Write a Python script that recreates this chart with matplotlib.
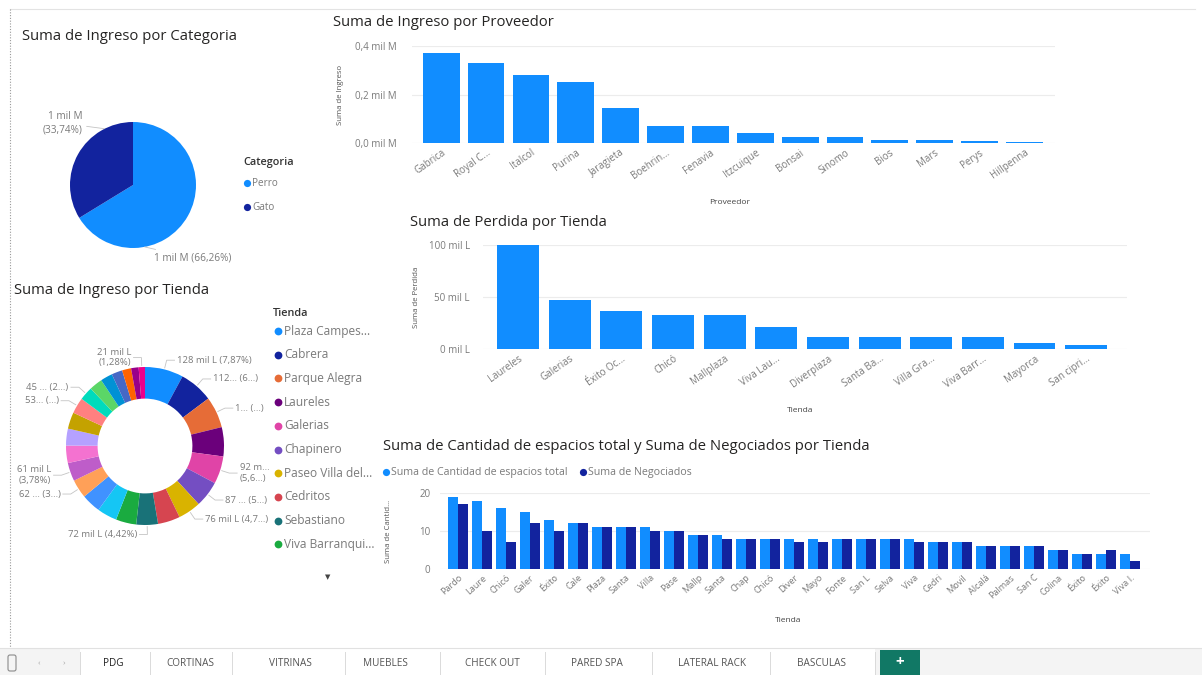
import numpy as np
import matplotlib
matplotlib.use('Agg')
import matplotlib.pyplot as plt
from matplotlib.patches import Rectangle, FancyBboxPatch

W, H = 1202, 675
plt.rcParams['font.family'] = ['Open Sans', 'DejaVu Sans']

# ---------------- data ----------------
categorias = ['Perro', 'Gato']
ingreso_categoria_pct = [66.26, 33.74]
categoria_labels = ['1 mil M (66,26%)', '1 mil M\n(33,74%)']
categoria_colors = ['#118DFF', '#12239E']

proveedores = ['Gabrica', 'Royal C...', 'Italcol', 'Purina', 'Jaragieta', 'Boehrin...',
               'Fenavia', 'Itzcuique', 'Bonsai', 'Sinomo', 'Bios', 'Mars', 'Perys', 'Hillpenna']
ingreso_proveedor = [0.371, 0.330, 0.280, 0.250, 0.145, 0.072, 0.071, 0.040,
                     0.026, 0.025, 0.013, 0.012, 0.009, 0.005]
prov_ticks = [0.0, 0.2, 0.4]
prov_ticklabels = ['0,0 mil M', '0,2 mil M', '0,4 mil M']

tiendas_perdida = ['Laureles', 'Galerias', 'Éxito Oc...', 'Chicó', 'Mallplaza', 'Viva Lau...',
                   'Diverplaza', 'Santa Ba...', 'Villa Gra...', 'Viva Barr...', 'Mayorca', 'San cipri...']
perdida = [100, 47, 37, 33, 33, 21, 12, 12, 12, 12, 6, 4]
perd_ticks = [0, 50, 100]
perd_ticklabels = ['0 mil L', '50 mil L', '100 mil L']

tiendas_ingreso = ['Plaza Campes...', 'Cabrera', 'Parque Alegra', 'Laureles', 'Galerias',
                   'Chapinero', 'Paseo Villa del...', 'Cedritos', 'Sebastiano', 'Viva Barranqui...',
                   'Chicó', 'Éxito Oc...', 'Mallplaza', 'Viva Lau...', 'Diverplaza', 'Santa Ba...',
                   'Villa Gra...', 'Viva Barr...', 'Mayorca', 'San cipri...', 'Fontanar',
                   'San Lucas', 'Selva', 'Movil', 'Alcalá']
ingreso_tienda = [128, 112, 104, 97, 92, 87, 76, 74, 72, 68, 66, 64, 62, 61, 58, 56, 55,
                  53, 45, 44, 40, 36, 30, 25, 21]
tienda_colors = ['#118DFF', '#12239E', '#E66C37', '#6B007B', '#E044A7', '#744EC2', '#D9B300',
                 '#D64550', '#197278', '#1AAB40', '#15C6F4', '#4092FF', '#FFA058', '#BE5DC9',
                 '#F472D0', '#B5A1FF', '#C4A200', '#FF8080', '#00DBBC', '#5BD667', '#0091D5',
                 '#4668C5', '#FF6300', '#99008A', '#EC008C']
ingreso_tienda_labels = {0: '128 mil L (7,87%)', 1: '112... (6...)', 2: '1... (...)',
                         4: '92 m...\n(5,6...)', 5: '87 ... (5...)', 6: '76 mil L (4,7...)',
                         8: '72 mil L (4,42%)', 12: '62 ... (3...)', 13: '61 mil L\n(3,78%)',
                         17: '53... (...)', 18: '45 ... (2...)', 24: '21 mil L\n(1,28%)'}

tiendas_espacios = ['Pardo', 'Laure', 'Chicó', 'Galer', 'Éxito', 'Cale', 'Plaza', 'Santa',
                    'Villa', 'Pase', 'Mallp', 'Santa', 'Chap', 'Chicó', 'Diver', 'Mayo',
                    'Fonte', 'San L', 'Selva', 'Viva', 'Cedri', 'Movil', 'Alcalá', 'Palmas',
                    'San C', 'Colina', 'Éxito', 'Éxito', 'Viva I.']
espacios_total = [19, 18, 16, 15, 13, 12, 11, 11, 11, 10, 9, 9, 8, 8, 8, 8, 8, 8, 8, 8,
                  7, 7, 6, 6, 6, 5, 4, 4, 4]
negociados = [17, 10, 7, 12, 10, 12, 11, 11, 10, 10, 9, 8, 8, 8, 7, 7, 8, 8, 8, 7,
              7, 7, 6, 6, 6, 5, 4, 5, 2]
esp_ticks = [0, 10, 20]

tabs = ['PDG', 'CORTINAS', 'VITRINAS', 'MUEBLES', 'CHECK OUT', 'PARED SPA', 'LATERAL RACK', 'BASCULAS']

# ---------------- helpers ----------------
LIGHT = '#118DFF'
DARK = '#12239E'
TITLE_C = '#252423'
LBL_C = '#7A7A7A'
TICK_FS = 7.0


def rect(x0, y0, x1, y1):
    return [x0 / W, 1 - y1 / H, (x1 - x0) / W, (y1 - y0) / H]


fig = plt.figure(figsize=(W / 100, H / 100), dpi=100)
fig.patch.set_facecolor('white')

bg = fig.add_axes([0, 0, 1, 1], zorder=-5)
bg.set_xlim(0, W)
bg.set_ylim(H, 0)
bg.axis('off')

# frame chrome
bg.plot([10, 1195], [9, 9], color='#E3E3E3', lw=0.8)
bg.plot([10, 10], [9, 648], color='#9A9A9A', lw=0.8, ls=(0, (1, 1.5)))


def title(x, y, s):
    bg.text(x, y, s, fontsize=10.7, color=TITLE_C, ha='left', va='center')


def style_bar_axes(ax, ticks, ticklabels, pad):
    for s in ax.spines.values():
        s.set_visible(False)
    ax.set_yticks(ticks)
    ax.set_yticklabels(ticklabels)
    ax.tick_params(axis='both', length=0, labelsize=TICK_FS, labelcolor=LBL_C)
    ax.tick_params(axis='y', pad=pad)
    ax.tick_params(axis='x', pad=3)
    ax.grid(axis='y', color='#ECECEC', lw=0.8)
    ax.set_axisbelow(True)
    ax.patch.set_alpha(0)


# ---------------- Pie: Ingreso por Categoria ----------------
title(22, 36, 'Suma de Ingreso por Categoria')
ax1 = fig.add_axes(rect(70, 122, 196, 248))
w1, _ = ax1.pie(ingreso_categoria_pct, colors=categoria_colors, startangle=90,
                counterclock=False, radius=1, wedgeprops=dict(edgecolor='none'))
ax1.set_xlim(-1, 1)
ax1.set_ylim(-1, 1)
ax1.axis('off')
# labels anchored on the wedge edge
for wdg, lab, frac_pos, off, ha in zip(w1, categoria_labels, [0.29, 0.22],
                                       [(7, -8), (-16, 4)], ['left', 'right']):
    th = np.deg2rad(wdg.theta1 + (wdg.theta2 - wdg.theta1) * frac_pos)
    p = (np.cos(th), np.sin(th))
    ax1.annotate(lab, xy=p, xytext=off, textcoords='offset points', fontsize=7.2,
                 color=LBL_C, ha=ha, va='center', annotation_clip=False, linespacing=1.3,
                 arrowprops=dict(arrowstyle='-', color='#C4C4C4', lw=0.6, shrinkA=1, shrinkB=0))
bg.text(243, 162, 'Categoria', fontsize=7.8, color='#333333', fontweight='semibold', va='center')
for i, (c, col) in enumerate(zip(categorias, categoria_colors)):
    yy = 183 + i * 24
    bg.plot(247, yy, 'o', ms=5.2, color=col, mec='none')
    bg.text(252, yy, c, fontsize=7.2, color=LBL_C, va='center')

# ---------------- Bar: Ingreso por Proveedor ----------------
title(333, 22, 'Suma de Ingreso por Proveedor')
ax2 = fig.add_axes(rect(412, 46, 1055, 143))
ax2.bar(np.arange(len(proveedores)), ingreso_proveedor, width=0.82, color=LIGHT)
ax2.set_xlim(-0.65, len(proveedores) - 0.32)
ax2.set_ylim(0, 0.4)
style_bar_axes(ax2, prov_ticks, prov_ticklabels, 11)
ax2.set_xticks(np.arange(len(proveedores)))
ax2.set_xticklabels(proveedores, rotation=35, ha='right', rotation_mode='anchor')
bg.text(340, 95, 'Suma de Ingreso', rotation=90, fontsize=5.6, color='#555555', ha='center', va='center')
bg.text(730, 203, 'Proveedor', fontsize=6, color='#444444', ha='center', va='center')

# ---------------- Bar: Perdida por Tienda ----------------
title(410, 223, 'Suma de Perdida por Tienda')
ax3 = fig.add_axes(rect(483, 245, 1127, 349))
ax3.bar(np.arange(len(tiendas_perdida)), perdida, width=0.81, color=LIGHT)
ax3.set_xlim(-0.68, len(tiendas_perdida) - 0.21)
ax3.set_ylim(0, 100)
style_bar_axes(ax3, perd_ticks, perd_ticklabels, 9.5)
ax3.set_xticks(np.arange(len(tiendas_perdida)))
ax3.set_xticklabels(tiendas_perdida, rotation=35, ha='right', rotation_mode='anchor')
bg.text(416, 297, 'Suma de Perdida', rotation=90, fontsize=5.6, color='#555555', ha='center', va='center')
bg.text(800, 411, 'Tienda', fontsize=6, color='#444444', ha='center', va='center')

# ---------------- Donut: Ingreso por Tienda ----------------
title(14, 290, 'Suma de Ingreso por Tienda')
ax5 = fig.add_axes(rect(66, 367, 224, 525))
w5, _ = ax5.pie(ingreso_tienda, colors=tienda_colors, startangle=90, counterclock=False,
                radius=1, wedgeprops=dict(width=0.4, edgecolor='none'))
ax5.set_xlim(-1, 1)
ax5.set_ylim(-1, 1)
ax5.axis('off')
for i, txt in ingreso_tienda_labels.items():
    wdg = w5[i]
    th = np.deg2rad((wdg.theta1 + wdg.theta2) / 2)
    x, y = np.cos(th), np.sin(th)
    side = 1 if x > 0.05 else -1
    p1 = (1.02 * x, 1.02 * y)
    p2 = (1.12 * x, 1.12 * y)
    p3 = (p2[0] + side * 0.10, p2[1])
    ax5.plot([p1[0], p2[0], p3[0]], [p1[1], p2[1], p3[1]], color='#C4C4C4', lw=0.6, clip_on=False)
    ax5.text(p3[0] + side * 0.03, p3[1], txt, ha='left' if side > 0 else 'right', va='center',
             fontsize=6.8, color=LBL_C, linespacing=1.25, clip_on=False)
bg.text(273, 313, 'Tienda', fontsize=7.8, color='#333333', fontweight='semibold', va='center')
for i in range(10):
    yy = 331 + i * 23.7
    bg.plot(278, yy, 'o', ms=5.6, color=tienda_colors[i], mec='none')
    bg.text(284, yy, tiendas_ingreso[i], fontsize=8.6, color=LBL_C, va='center')
bg.text(328, 577, '▼', fontsize=5, color='#444444', ha='center', va='center', family='DejaVu Sans')

# ---------------- Grouped bars: espacios / negociados ----------------
title(383, 446, 'Suma de Cantidad de espacios total y Suma de Negociados por Tienda')
bg.plot(386, 472, 'o', ms=5.2, color=LIGHT, mec='none')
bg.text(391, 472, 'Suma de Cantidad de espacios total', fontsize=7.7, color=LBL_C, va='center')
bg.plot(583, 472, 'o', ms=5.2, color=DARK, mec='none')
bg.text(588, 472, 'Suma de Negociados', fontsize=7.7, color=LBL_C, va='center')
ax4 = fig.add_axes(rect(440, 493, 1150, 569))
xg = np.arange(len(tiendas_espacios))
ax4.bar(xg - 0.21, espacios_total, width=0.42, color=LIGHT)
ax4.bar(xg + 0.21, negociados, width=0.42, color=DARK)
ax4.set_xlim(-0.75, len(tiendas_espacios) - 0.17)
ax4.set_ylim(0, 20)
style_bar_axes(ax4, esp_ticks, [str(t) for t in esp_ticks], 7)
ax4.set_xticks(xg)
ax4.set_xticklabels(tiendas_espacios, rotation=42, ha='right', rotation_mode='anchor')
ax4.tick_params(axis='x', labelsize=6.6)
bg.text(389, 531, 'Suma de Cantid...', rotation=90, fontsize=5.6, color='#555555', ha='center', va='center')
bg.text(788, 621, 'Tienda', fontsize=6, color='#444444', ha='center', va='center')

# ---------------- Page tabs ----------------
bg.add_patch(Rectangle((0, 648), W, H - 648, facecolor='#F4F4F4', edgecolor='none', zorder=0))
bg.add_patch(Rectangle((80, 648), 795, H - 648, facecolor='#FFFFFF', edgecolor='none', zorder=0))
bg.plot([0, W], [648, 648], color='#E1E1E1', lw=0.8)
bg.add_patch(FancyBboxPatch((8, 655), 8, 16, boxstyle='round,pad=0,rounding_size=2',
                            facecolor='none', edgecolor='#8A8A8A', lw=0.8))
bg.text(39, 664, '‹', fontsize=6, color='#AAAAAA', ha='center', va='center')
bg.text(64, 664, '›', fontsize=6, color='#AAAAAA', ha='center', va='center')
tab_centers = [113, 190, 290, 385, 492, 597, 712, 822]
tab_seps = [80, 150, 232, 345, 440, 545, 652, 770, 875]
for xs in tab_seps:
    bg.plot([xs, xs], [652, 675], color='#DADADA', lw=0.7)
for xc, t in zip(tab_centers, tabs):
    bg.text(xc, 664, t, fontsize=7.2, color='#555555' if t != 'PDG' else '#222222',
            ha='center', va='center')
bg.add_patch(Rectangle((880, 650), 40, 25, facecolor='#117865', edgecolor='none'))
bg.text(900, 662, '+', fontsize=11, color='white', ha='center', va='center', fontweight='bold')

fig.savefig('out.png', dpi=100, facecolor='white')
